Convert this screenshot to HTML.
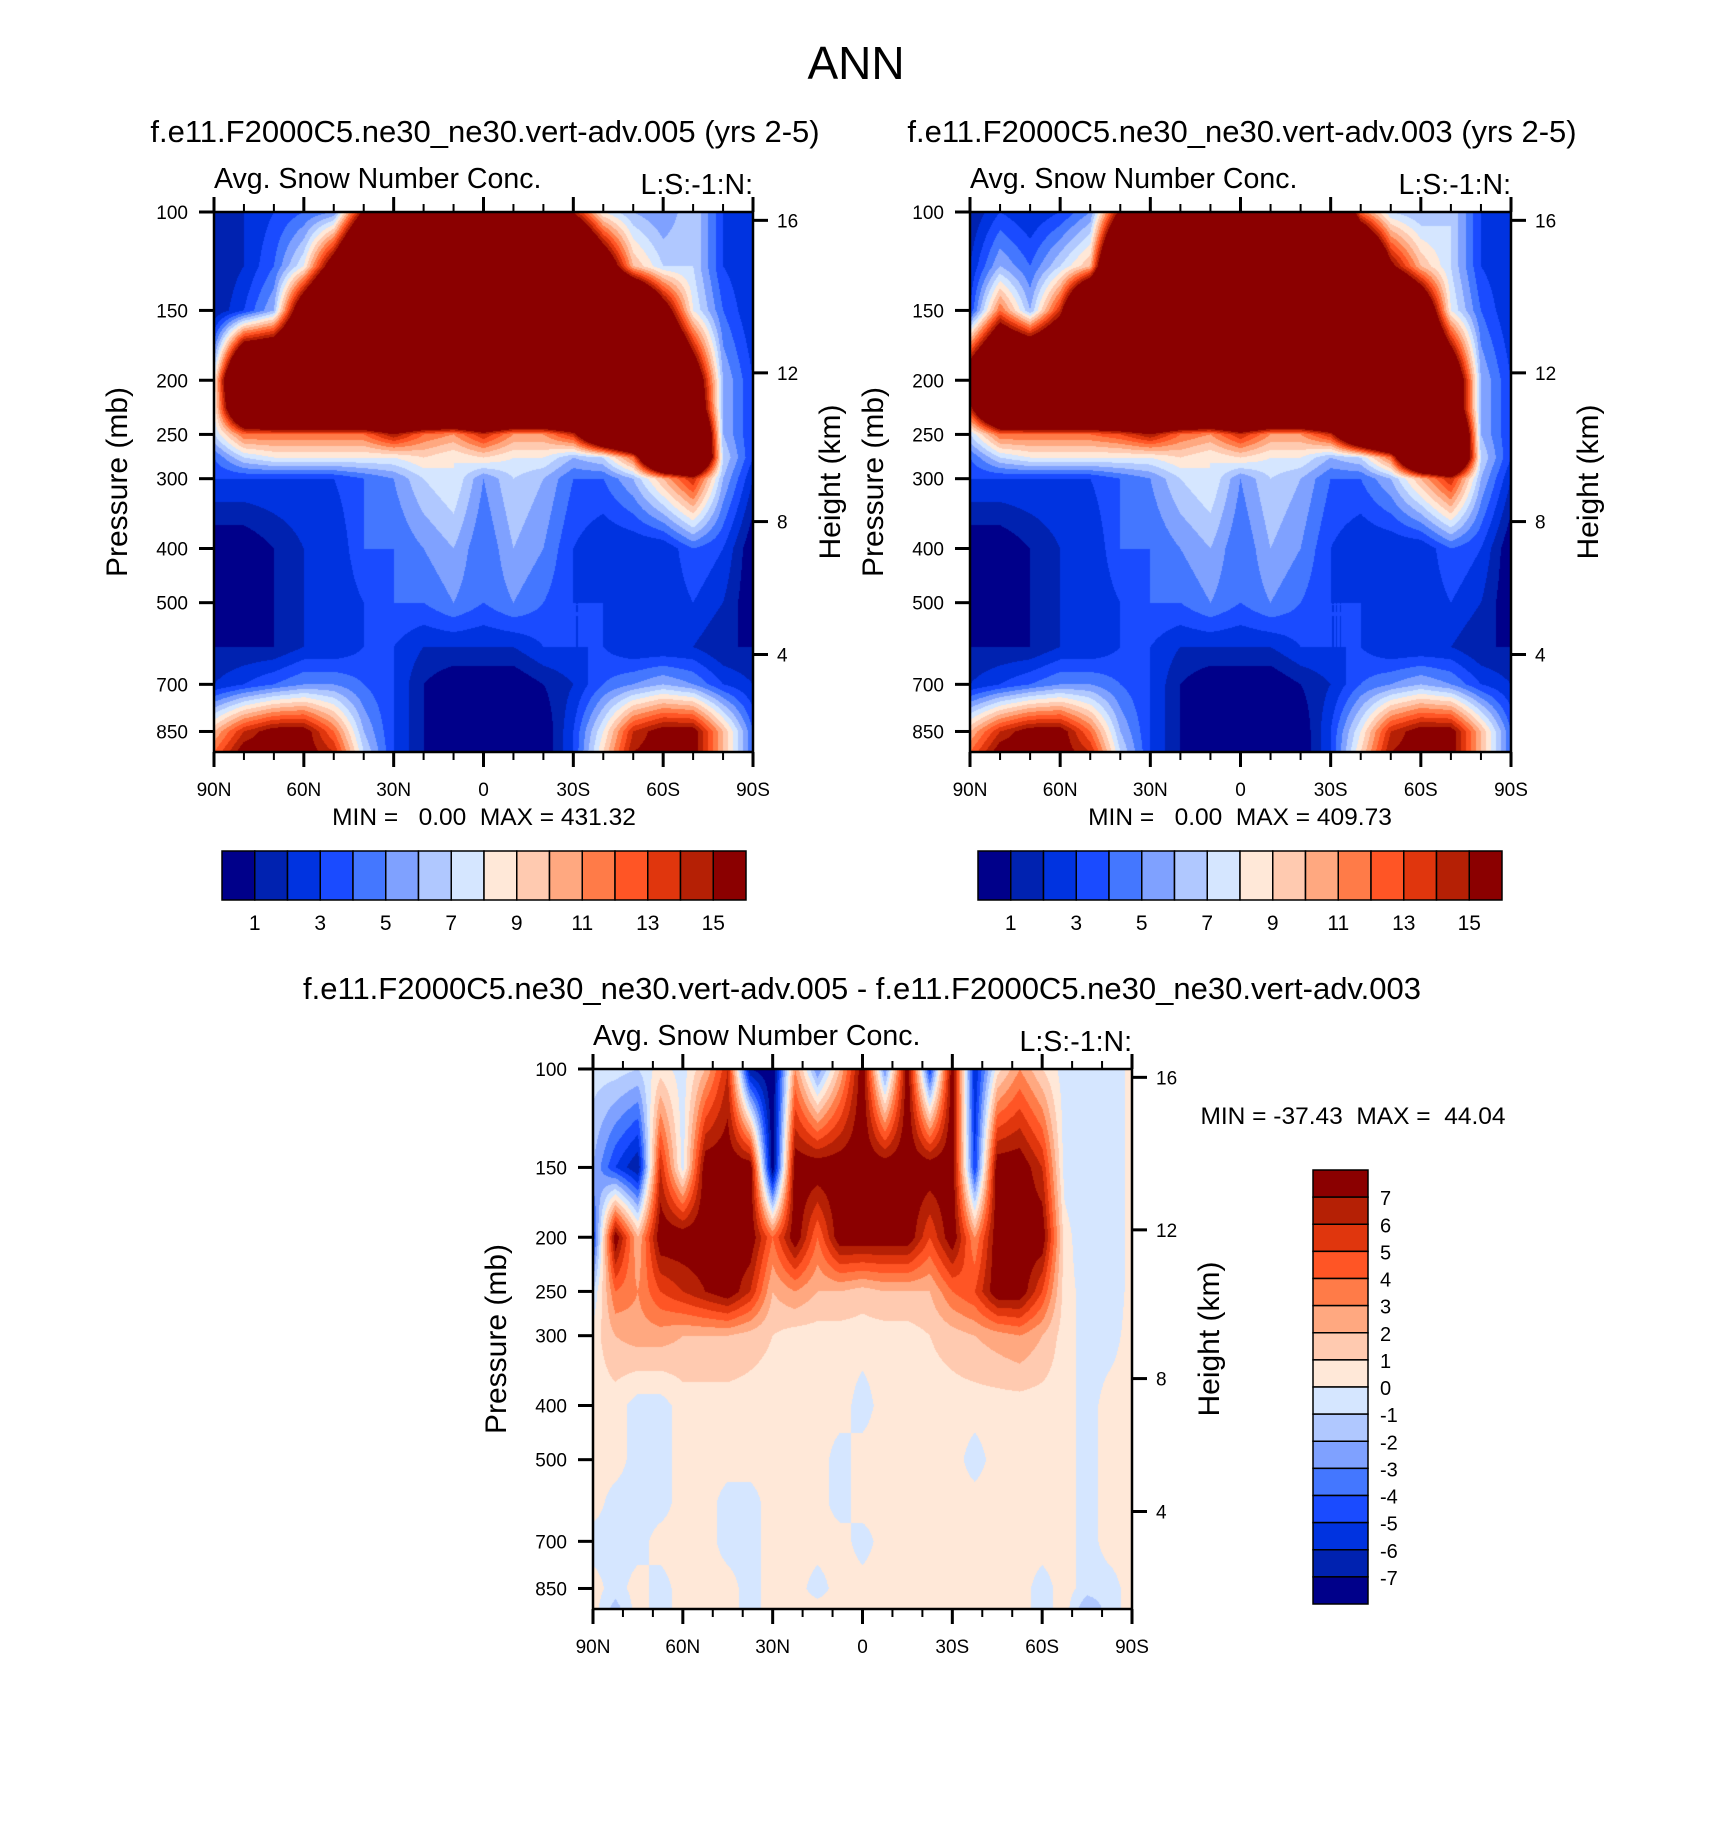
<!DOCTYPE html>
<html><head><meta charset="utf-8"><style>
body{margin:0;background:#fff;}
#root{position:relative;width:1710px;height:1830px;overflow:hidden;font-family:"Liberation Sans",Arial,sans-serif;}
canvas{position:absolute;}
svg{position:absolute;left:0;top:0;}
</style></head><body>
<div id="root">
<canvas id="c1"></canvas>
<canvas id="c2"></canvas>
<canvas id="c3"></canvas>
<svg id="s" width="1710" height="1830"></svg>
</div>
<script>
// ---- data ----
const palette = ['#00008a','#0022b0','#0033e0','#1a4bff','#4477ff','#7fa1ff','#b0c8ff','#d5e6ff','#ffe8d8','#ffcab0','#ffa880','#ff7b48','#ff5525','#e0360d','#b52005','#8b0000'];
const lats19 = [90,80,70,60,50,40,30,20,10,0,-10,-20,-30,-40,-50,-60,-70,-80,-90];
const levelsMain = [100,125,150,200,225,250,275,300,400,500,600,700,850,925];
const field005 = [
 [1,2,3,4,5,16,30,30,30,30,30,30,15,8,6,5,7,3,2],
 [1,2,4,8,18,30,30,30,30,30,30,30,30,20,10,7,7,3,2],
 [1,3,6,20,30,30,30,30,30,30,30,30,30,30,30,18,8,4,2],
 [8,30,30,30,30,30,30,30,30,30,30,30,30,30,30,30,20,6,3],
 [8,25,30,30,30,30,30,30,30,30,30,30,30,30,30,30,22,6,3],
 [7,12,12,12,12,12,15,12,11,14,11,11,14,25,30,30,30,6,3],
 [4,7,8,8,8,8,8,9,8,9,8,8,6,7,12,30,30,7,3],
 [3,3,3,3,3,4,5,7,8,5,7,6,4,4,6,10,14,6,2],
 [0,0,1,2,2,4,4,5,6,4,6,5,3,2,2,2,4,3,0],
 [0,0,1,2,2,3,4,4,5,4,5,4,3,3,2,2,3,2,0],
 [1,1,1,2,2,3,3,2,2,2,2,3,3,3,2,2,2,1,1],
 [2,3,4,5,5,4,3,1,0,0,0,1,2,4,5,6,5,3,2],
 [10,14,16,16,12,6,3,1,0,0,0,0,3,8,14,16,16,10,4],
 [12,16,16,16,14,7,3,1,0,0,0,0,3,9,15,16,16,10,4]];
const field003 = [
 [1,3,2,3,5,16,30,30,30,30,30,30,30,12,7,6,7,3,2],
 [2,6,4,7,10,30,30,30,30,30,30,30,30,30,16,10,7,3,2],
 [3,12,6,14,30,30,30,30,30,30,30,30,30,30,30,22,8,4,2],
 [20,30,30,30,30,30,30,30,30,30,30,30,30,30,30,30,22,6,3],
 [14,28,30,30,30,30,30,30,30,30,30,30,30,30,30,30,22,6,3],
 [7,12,12,12,12,13,15,12,11,14,11,11,14,25,30,30,30,6,3],
 [4,7,8,8,8,8,8,9,8,9,8,8,6,7,12,30,30,7,3],
 [3,3,3,3,3,4,5,7,8,5,7,6,4,4,6,10,14,6,2],
 [0,0,1,2,2,4,4,5,6,4,6,5,3,2,2,2,4,3,0],
 [0,0,1,2,2,3,4,4,5,4,5,4,3,3,2,2,3,2,0],
 [1,1,1,2,2,3,3,2,2,2,2,3,3,3,2,2,2,1,1],
 [2,3,4,5,5,4,3,1,0,0,0,1,2,4,5,6,5,3,2],
 [10,14,16,16,12,6,3,1,0,0,0,0,3,8,14,16,16,10,4],
 [12,16,16,16,14,7,3,1,0,0,0,0,3,9,15,16,16,10,4]];
const lats25 = [90,82.5,75,67.5,60,52.5,45,37.5,30,22.5,15,7.5,0,-7.5,-15,-22.5,-30,-37.5,-45,-52.5,-60,-67.5,-75,-82.5,-90];
const levelsDiff = [100,150,200,250,300,400,500,600,700,850,925];
const fieldDiff = [
 [-0.5,-0.5,-1,0.5,-0.5,2,6,-7,-8,3,-3,2,8,-3,8,-5,8,-6,0.5,3,1,-0.5,-1,-1,0.5],
 [-2,-5,-7,6,-0.5,8,8,8,-8,8,8,8,8,8,8,8,8,-5,8,8,6,-0.5,-1,-1,0.5],
 [-5,8,2,8,8,8,8,8,4,8,4,8,8,8,8,5,8,3,8,8,8,0.5,-1,-1,0.5],
 [-1,4,3,5,6,7,8,6,2,3,2,2,1.5,2,2,2,4,5,8,8,5,0.5,-0.5,-1,0.5],
 [0.5,2,2.5,2.5,2,2,2,1.5,1,0.5,0.5,0.5,0.5,0.5,0.5,1,1.5,2,2.5,3,2,0.5,-0.5,-0.5,0.5],
 [0.5,0.5,-0.5,-0.5,0.5,0.5,0.5,0.5,0.5,0.5,0.5,0.5,-0.5,0.5,0.5,0.5,0.5,0.5,0.5,0.5,0.5,0.5,-0.5,0.5,0.5],
 [0.5,0.5,-0.5,-0.5,0.5,0.5,0.5,0.5,0.5,0.5,0.5,-0.5,0.5,0.5,0.5,0.5,0.5,-0.5,0.5,0.5,0.5,0.5,-0.5,0.5,0.5],
 [0.5,-0.5,-0.5,-0.5,0.5,0.5,-0.5,-0.5,0.5,0.5,0.5,-0.5,0.5,0.5,0.5,0.5,0.5,0.5,0.5,0.5,0.5,0.5,-0.5,0.5,0.5],
 [-0.5,-0.5,-0.5,0.5,0.5,0.5,-0.5,-0.5,0.5,0.5,0.5,0.5,-0.5,0.5,0.5,0.5,0.5,0.5,0.5,0.5,0.5,0.5,-0.5,0.5,0.5],
 [0.5,-0.5,0.5,-0.5,0.5,0.5,0.5,-0.5,0.5,0.5,-0.5,0.5,0.5,0.5,0.5,0.5,0.5,0.5,0.5,0.5,-0.5,0.5,-0.5,-0.5,0.5],
 [0.5,-1.5,0.5,-0.5,0.5,0.5,0.5,-0.5,0.5,0.5,0.5,0.5,0.5,0.5,0.5,0.5,0.5,0.5,0.5,0.5,-0.5,0.5,-2,-0.5,0.5]];
const pTicks = [100,150,200,250,300,400,500,700,850];
const hTicks = [16,12,8,4];
const hTickP = [103.5,194,358,619];
const latTickLabels = ['90N','60N','30N','0','30S','60S','90S'];
const barLabelsMain = ['1','3','5','7','9','11','13','15'];
const barLabelsDiff = ['7','6','5','4','3','2','1','0','-1','-2','-3','-4','-5','-6','-7'];

// ---- geometry ----
const P_TOP = 100, P_BOT = 925;
function makeY(top, bot){ const a=Math.log(P_TOP), b=Math.log(P_BOT); return p => top + (Math.log(p)-a)/(b-a)*(bot-top); }
function makeX(left, right){ return lat => left + (90-lat)/180*(right-left); }

function renderField(id, left, top, right, bot, lats, levels, grid, base){
  const cv = document.getElementById(id);
  const W = right-left, H = bot-top;
  cv.width = W; cv.height = H; cv.style.left = left+'px'; cv.style.top = top+'px';
  const ctx = cv.getContext('2d');
  const img = ctx.createImageData(W,H);
  const rgb = palette.map(h=>[parseInt(h.substr(1,2),16),parseInt(h.substr(3,2),16),parseInt(h.substr(5,2),16)]);
  const lnl = levels.map(Math.log);
  const a=Math.log(P_TOP), b=Math.log(P_BOT);
  for(let y=0;y<H;y++){
    const lp = a + (y+0.5)/H*(b-a);
    let k=0; while(k<lnl.length-2 && lp>lnl[k+1]) k++;
    let fy = (lp-lnl[k])/(lnl[k+1]-lnl[k]); fy=Math.max(0,Math.min(1,fy));
    for(let x=0;x<W;x++){
      const lat = 90 - (x+0.5)/W*180;
      let i=0; while(i<lats.length-2 && lat<lats[i+1]) i++;
      let fx = (lats[i]-lat)/(lats[i]-lats[i+1]); fx=Math.max(0,Math.min(1,fx));
      const v = (grid[k][i]*(1-fx)+grid[k][i+1]*fx)*(1-fy)+(grid[k+1][i]*(1-fx)+grid[k+1][i+1]*fx)*fy;
      let bin = Math.floor(v-base); bin=Math.max(0,Math.min(15,bin));
      const c=rgb[bin], o=(y*W+x)*4;
      img.data[o]=c[0];img.data[o+1]=c[1];img.data[o+2]=c[2];img.data[o+3]=255;
    }
  }
  ctx.putImageData(img,0,0);
}

const svg = document.getElementById('s');
const NS='http://www.w3.org/2000/svg';
function el(tag, attrs, parent){ const e=document.createElementNS(NS,tag); for(const k in attrs) e.setAttribute(k,attrs[k]); (parent||svg).appendChild(e); return e; }
function txt(s, x, y, size, anchor, parent){ const t=el('text',{x:x,y:y,'font-size':size,'text-anchor':anchor||'middle','font-family':'Liberation Sans, Arial, sans-serif',fill:'#000'},parent); t.textContent=s; return t; }

function drawAxes(name, left, top, right, bot){
  const g = el('g',{});
  
  
  const X = makeX(left,right), Y = makeY(top,bot);
  const frame = el('rect',{x:left,y:top,width:right-left,height:bot-top,fill:'none',stroke:'#000','stroke-width':2.5},g);
  
  
  for(let lat=90; lat>=-90; lat-=10){
    const major = lat%30===0, len = major?15:8, x=X(lat);
    el('line',{x1:x,y1:top,x2:x,y2:top-len,stroke:'#000','stroke-width':major?3:2},g);
    el('line',{x1:x,y1:bot,x2:x,y2:bot+len,stroke:'#000','stroke-width':major?3:2},g);
  }
  latTickLabels.forEach((s,i)=>{
    const t = txt(s, X(90-30*i), bot+44, 19, 'middle', g);
    
    
  });
  pTicks.forEach(p=>{
    const y=Y(p);
    el('line',{x1:left,y1:y,x2:left-15,y2:y,stroke:'#000','stroke-width':3},g);
    const t = txt(String(p), left-26, y+7, 19, 'end', g);
    
    
  });
  hTicks.forEach((h,i)=>{
    const y=Y(hTickP[i]);
    el('line',{x1:right,y1:y,x2:right+15,y2:y,stroke:'#000','stroke-width':3},g);
    const t = txt(String(h), right+24, y+7, 19, 'start', g);
    
    
  });
  const yt = txt('Pressure (mb)', 0, 0, 30, 'middle', g);
  yt.setAttribute('transform', 'translate('+(left-87)+','+((top+bot)/2)+') rotate(-90)');
  
  
  const ht = txt('Height (km)', 0, 0, 30, 'middle', g);
  ht.setAttribute('transform', 'translate('+(right+87)+','+((top+bot)/2)+') rotate(-90)');
  
  
  const a1 = txt('Avg. Snow Number Conc.', left, top-24, 28.5, 'start', g);
  
  
  const a2 = txt('L:S:-1:N:', right, top-18, 28.5, 'end', g);
  
  
}

function hColorbar(name, left, top, right, bot){
  const g = el('g',{});
  
  
  const w=(right-left)/16;
  palette.forEach((c,i)=>{
    const r = el('rect',{x:left+i*w,y:top,width:w,height:bot-top,fill:c,stroke:'#000','stroke-width':1.5},g);
    
    
  });
  barLabelsMain.forEach((s,i)=>{
    const t = txt(s, left+(2*i+1)*w, bot+30, 21, 'middle', g);
    
    
  });
}
function vColorbar(name, left, top, right, bot){
  const g = el('g',{});
  
  
  const h=(bot-top)/16;
  palette.slice().reverse().forEach((c,i)=>{
    const r = el('rect',{x:left,y:top+i*h,width:right-left,height:h,fill:c,stroke:'#000','stroke-width':1.5},g);
    
    
  });
  barLabelsDiff.forEach((s,i)=>{
    const t = txt(s, right+12, top+(i+1)*h+8, 20, 'start', g);
    
    
  });
}

renderField('c1',214,212,753,752,lats19,levelsMain,field005,0);
renderField('c2',970,212,1511,752,lats19,levelsMain,field003,0);
renderField('c3',593,1069,1132,1609,lats25,levelsDiff,fieldDiff,-8);

const t0 = txt('ANN', 856, 79, 46, 'middle');


const t1 = txt('f.e11.F2000C5.ne30_ne30.vert-adv.005 (yrs 2-5)', 485, 142, 31, 'middle');


const t2 = txt('f.e11.F2000C5.ne30_ne30.vert-adv.003 (yrs 2-5)', 1242, 142, 31, 'middle');


const t3 = txt('f.e11.F2000C5.ne30_ne30.vert-adv.005 - f.e11.F2000C5.ne30_ne30.vert-adv.003', 862, 999, 31, 'middle');



drawAxes('panel1',214,212,753,752);
drawAxes('panel2',970,212,1511,752);
drawAxes('difference',593,1069,1132,1609);

const m1 = txt('MIN =   0.00  MAX = 431.32', 484, 825, 24.5, 'middle');


m1.style.whiteSpace='pre';
const m2 = txt('MIN =   0.00  MAX = 409.73', 1240, 825, 24.5, 'middle');


m2.style.whiteSpace='pre';
const m3 = txt('MIN = -37.43  MAX =  44.04', 1353, 1124, 24.5, 'middle');


m3.style.whiteSpace='pre';

hColorbar('panel1-colorbar',222,851,746,900);
hColorbar('panel2-colorbar',978,851,1502,900);
vColorbar('difference-colorbar',1313,1170,1368,1604);
</script>
</body></html>
